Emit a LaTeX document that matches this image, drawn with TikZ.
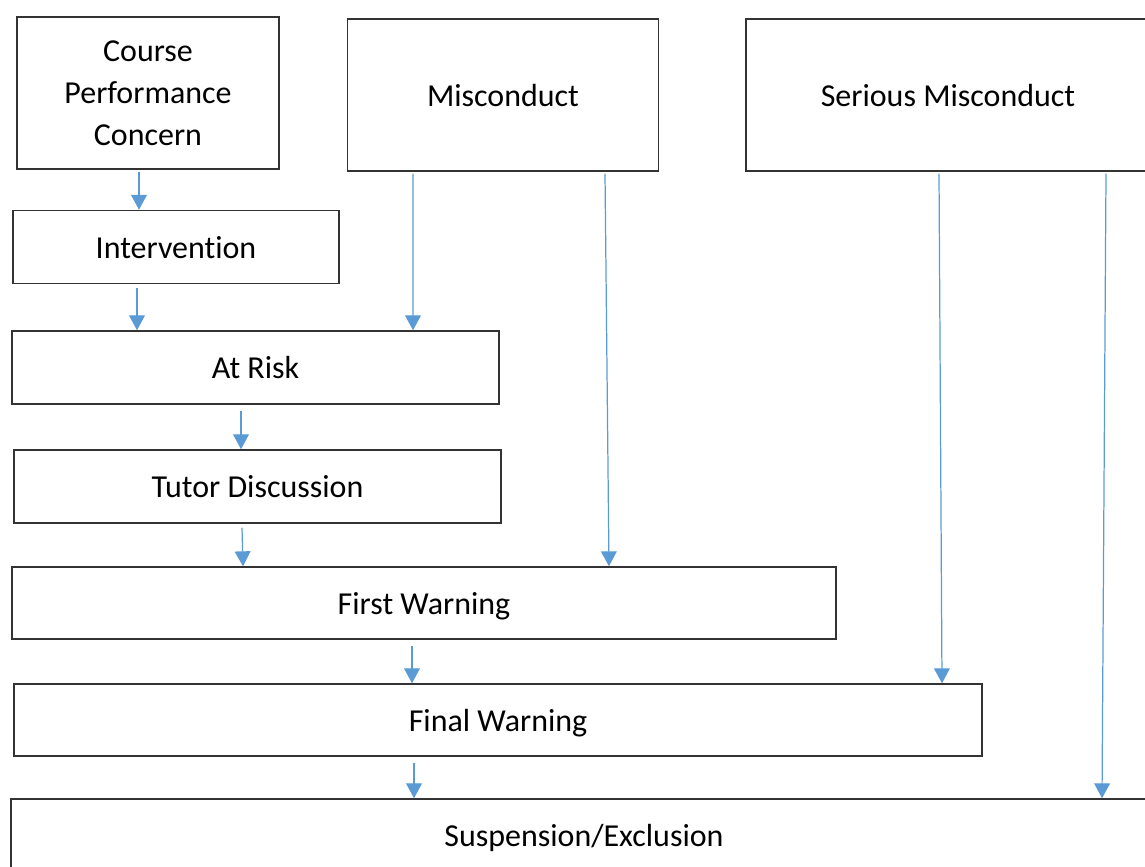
\documentclass[tikz,border=0pt]{standalone}
\usepackage{fontspec}
\setmainfont{Carlito}[Ligatures=NoCommon]
\usetikzlibrary{arrows.meta,calc}

\definecolor{flowblue}{RGB}{91,155,213}

\begin{document}
\begin{tikzpicture}[x=0.02cm,y=-0.02cm,
        font=\fontsize{18.2}{23.8}\selectfont,
        stage node/.style={rectangle,draw=black!80,line width=0.85pt,align=center,inner sep=0pt,text depth=0pt},
        flow/.style={draw=flowblue,line width=0.7pt,-{Triangle[width=9pt,length=8.5pt]}}]

    \useasboundingbox (0,0) rectangle (1145,866);

    \node[stage node,minimum width=5.24cm,minimum height=3.04cm] (course) at (148,93) {Course\\Performance\\Concern};
    \node[stage node,minimum width=6.22cm,minimum height=3.04cm] (mis) at (503,95) {Misconduct};
    \node[stage node,minimum width=8.08cm,minimum height=3.04cm] (serious) at (948,95) {Serious Misconduct};
    \node[stage node,minimum width=6.52cm,minimum height=1.46cm] (interv) at (176,247) {Intervention};
    \node[stage node,minimum width=9.74cm,minimum height=1.46cm] (atrisk) at (255.5,367.5) {At Risk};
    \node[stage node,minimum width=9.74cm,minimum height=1.46cm] (tutor) at (257.5,486.5) {Tutor Discussion};
    \node[stage node,minimum width=16.48cm,minimum height=1.44cm] (first) at (424,603) {First Warning};
    \node[stage node,minimum width=19.36cm,minimum height=1.44cm] (final) at (498,720) {Final Warning};
    \node[stage node,minimum width=22.92cm,minimum height=1.44cm] (susp) at (584,835) {Suspension/Exclusion};

    \draw[flow] ($(course.south)+(-9,2)$) -- ($(interv.north)+(-37,0)$);
    \draw[flow] ($(interv.south)+(-39,4)$) -- ($(atrisk.north)+(-118.5,0)$);
    \draw[flow] ($(mis.south)+(-90,2)$) -- ($(atrisk.north)+(157.5,0)$);
    \draw[flow] ($(mis.south)+(102,2)$) -- ($(first.north)+(185,0)$);
    \draw[flow] ($(atrisk.south)+(-14.5,6)$) -- ($(tutor.north)+(-16.5,0)$);
    \draw[flow] ($(tutor.south)+(-15.5,4)$) -- ($(first.north)+(-181,0)$);
    \draw[flow] ($(first.south)+(-12,6)$) -- ($(final.north)+(-86,0)$);
    \draw[flow] ($(serious.south)+(-9,2)$) -- ($(final.north)+(444,0)$);
    \draw[flow] ($(final.south)+(-84,6)$) -- ($(susp.north)+(-170,0)$);
    \draw[flow] ($(serious.south)+(158,2)$) -- ($(susp.north)+(518,0)$);
\end{tikzpicture}
\end{document}
